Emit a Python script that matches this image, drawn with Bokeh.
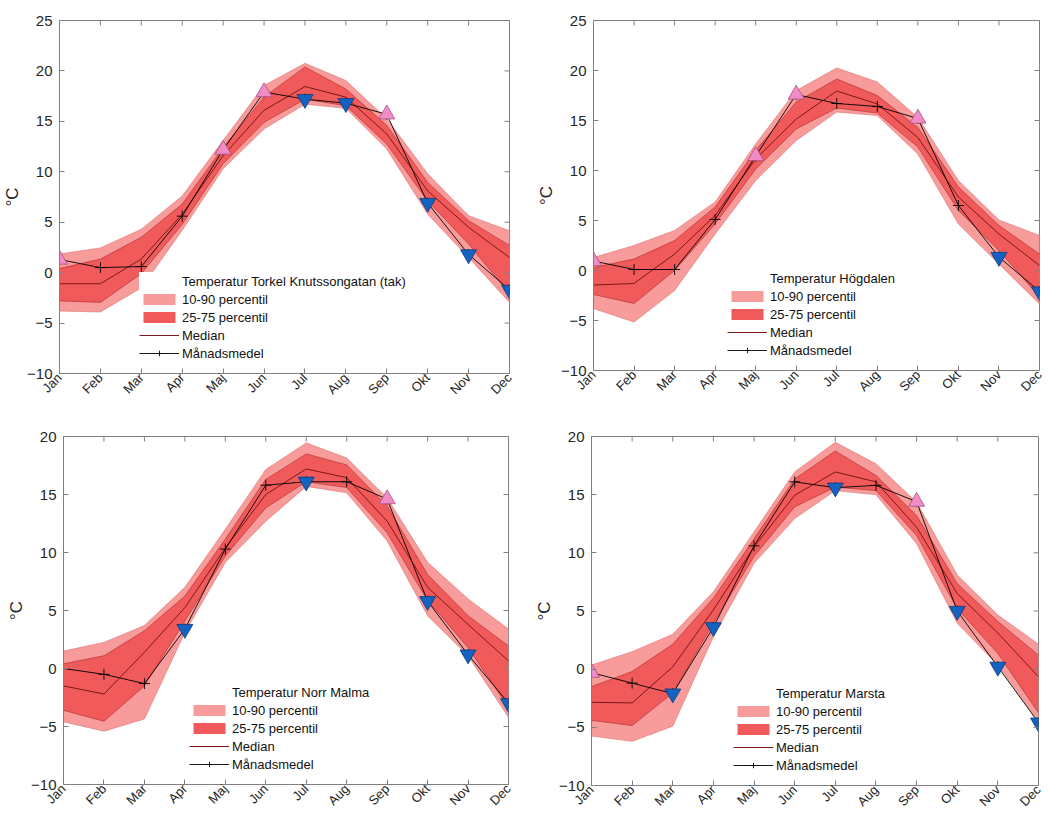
import math
from bokeh.plotting import figure
from bokeh.models import (Range1d, FixedTicker, Legend, LegendItem, ColumnDataSource)
from bokeh.layouts import column, row
from bokeh.embed import file_html
from bokeh.resources import INLINE

months = ["Jan", "Feb", "Mar", "Apr", "Maj", "Jun", "Jul", "Aug", "Sep", "Okt", "Nov", "Dec"]

# Torkel Knutssongatan (tak)
tk_p90 = [1.85, 2.45, 4.3, 7.6, 13.1, 18.55, 20.75, 19.05, 15.25, 9.8, 5.65, 4.15]
tk_p75 = [0.4, 1.35, 3.5, 6.8, 12.4, 17.4, 20.4, 18.2, 14.6, 8.95, 5.15, 2.7]
tk_med = [-1.1, -1.1, 1.35, 5.8, 11.6, 16.1, 18.45, 17.4, 13.75, 8.1, 4.5, 1.5]
tk_p25 = [-2.8, -2.95, -0.1, 4.8, 10.8, 14.9, 17.2, 16.55, 12.75, 7.1, 2.85, -2.1]
tk_p10 = [-3.8, -3.9, -1.5, 4.2, 10.3, 14.25, 16.7, 16.3, 12.25, 5.8, 1.5, -2.95]
tk_mean = [1.3, 0.5, 0.6, 5.6, 12.2, 17.9, 17.2, 16.8, 15.7, 6.9, 1.8, -1.7]
tk_flag = ["up", "", "", "", "up", "up", "down", "down", "up", "down", "down", "down"]

# Högdalen
hd_p90 = [1.3, 2.5, 4.0, 6.85, 12.65, 18.0, 20.25, 18.85, 15.3, 9.0, 5.05, 3.5]
hd_p75 = [0.3, 1.15, 3.0, 6.35, 12.0, 16.85, 19.15, 17.5, 14.3, 8.35, 4.5, 1.65]
hd_med = [-1.45, -1.3, 1.65, 5.5, 11.15, 15.15, 17.95, 16.65, 13.3, 7.35, 3.65, 0.5]
hd_p25 = [-2.4, -3.3, 0.0, 4.65, 10.15, 14.15, 16.25, 15.75, 12.35, 6.0, 2.0, -2.65]
hd_p10 = [-3.8, -5.15, -2.0, 3.65, 9.0, 13.0, 15.85, 15.5, 11.65, 4.65, 0.65, -3.35]
hd_mean = [0.95, 0.1, 0.1, 5.1, 11.45, 17.6, 16.7, 16.4, 15.2, 6.5, 1.35, -2.1]
hd_flag = ["up", "", "", "", "up", "up", "", "", "up", "", "down", "down"]

# Norr Malma
nm_p90 = [1.5, 2.25, 3.7, 7.0, 12.0, 17.15, 19.45, 18.15, 14.7, 9.15, 6.0, 3.4]
nm_p75 = [0.4, 1.1, 3.25, 6.25, 11.15, 16.3, 18.5, 17.55, 14.0, 8.1, 4.55, 1.95]
nm_med = [-1.5, -2.2, 1.4, 5.25, 10.4, 15.0, 17.2, 16.45, 12.7, 7.0, 3.8, 0.65]
nm_p25 = [-3.6, -4.55, -1.5, 4.1, 9.7, 13.85, 16.1, 15.6, 11.7, 5.85, 1.8, -3.35]
nm_p10 = [-4.6, -5.4, -4.35, 3.1, 9.15, 12.7, 15.7, 15.15, 11.0, 4.55, 1.1, -4.2]
nm_mean = [0.0, -0.5, -1.3, 3.4, 10.3, 15.8, 16.1, 16.1, 14.6, 5.8, 1.2, -3.0]
nm_flag = ["", "", "", "down", "", "", "down", "", "up", "down", "down", "down"]

# Marsta
ma_p90 = [0.35, 1.5, 3.0, 6.65, 11.8, 16.95, 19.5, 17.65, 14.35, 8.1, 4.65, 2.15]
ma_p75 = [-1.5, -0.2, 2.15, 6.1, 11.2, 16.35, 18.75, 16.65, 13.2, 7.35, 4.1, 1.2]
ma_med = [-2.85, -2.9, 0.2, 5.1, 10.5, 14.95, 16.95, 16.1, 12.2, 6.5, 3.1, -0.65]
ma_p25 = [-4.4, -4.85, -2.05, 3.95, 9.7, 13.95, 15.65, 15.35, 11.5, 5.2, 1.35, -3.75]
ma_p10 = [-5.75, -6.2, -4.9, 2.8, 9.1, 12.95, 15.35, 15.0, 10.8, 3.95, 0.35, -4.5]
ma_mean = [-0.3, -1.2, -2.1, 3.6, 10.6, 16.1, 15.6, 15.8, 14.4, 5.0, 0.2, -4.6]
ma_flag = ["up", "", "down", "down", "", "", "down", "", "up", "down", "down", "down"]

FONT = "Liberation Sans"
AXC = "#808080"
TXT = "#262626"
LIGHT = "#f89b9b"
DARK = "#f05a5a"


def style_axis(ax):
    ax.axis_line_color = AXC
    ax.major_tick_line_color = AXC
    ax.major_tick_in = 5
    ax.major_tick_out = 0
    ax.minor_tick_line_color = None
    ax.major_label_text_font = FONT
    ax.major_label_text_color = TXT


def panel(name, p10, p25, med, p75, p90, mean, flag, ymax, fw, fh, bl, br, bt, bb, legloc):
    x = list(range(1, len(months) + 1))
    yt = list(range(-10, ymax + 1, 5))
    p = figure(frame_width=fw, frame_height=fh, min_border_left=bl, min_border_right=br,
               min_border_top=bt, min_border_bottom=bb, x_range=Range1d(1, len(months)),
               y_range=Range1d(-10, ymax), output_backend="svg", toolbar_location=None,
               background_fill_color="white", border_fill_color="white")
    p.grid.visible = False
    p.outline_line_color = AXC

    src = ColumnDataSource(dict(x=x, p10=p10, p25=p25, med=med, p75=p75, p90=p90, mean=mean))
    r_light = p.varea(x="x", y1="p10", y2="p90", source=src, fill_color=LIGHT)
    p.line(x="x", y="p90", source=src, line_color="#e57a7a", line_width=0.7)
    p.line(x="x", y="p10", source=src, line_color="#e57a7a", line_width=0.7)
    r_dark = p.varea(x="x", y1="p25", y2="p75", source=src, fill_color=DARK)
    p.line(x="x", y="p75", source=src, line_color="#b83232", line_width=0.7)
    p.line(x="x", y="p25", source=src, line_color="#b83232", line_width=0.7)
    r_med = p.line(x="x", y="med", source=src, line_color="#7d1818", line_width=1)
    r_mean = p.line(x="x", y="mean", source=src, line_color="black", line_width=0.9)
    r_cross = p.scatter(x="x", y="mean", source=src, marker="cross", size=11,
                        line_color="black", line_width=0.9)

    ux = [xi for xi, f in zip(x, flag) if f == "up"]
    uy = [m for m, f in zip(mean, flag) if f == "up"]
    dx = [xi for xi, f in zip(x, flag) if f == "down"]
    dy = [m for m, f in zip(mean, flag) if f == "down"]
    p.scatter(ux, uy, marker="triangle", size=16, fill_color="#f28cc9",
              line_color="#a8507f", line_width=0.8)
    p.scatter(dx, dy, marker="inverted_triangle", size=16, fill_color="#1462c2",
              line_color="#0b3a78", line_width=0.8)

    # inward ticks on top and right edges (box style); half of each dash is clipped by the frame
    p.scatter(x, [ymax] * len(x), marker="dash", angle=math.pi / 2, size=10,
              line_color=AXC, line_width=1)
    p.scatter([len(months)] * len(yt), yt, marker="dash", size=10, line_color=AXC, line_width=1)

    r_title = p.line(x=[], y=[], line_color="#f7d4d4", line_width=1)

    items = [
        LegendItem(label="Temperatur " + name, renderers=[r_title]),
        LegendItem(label="10-90 percentil", renderers=[r_light]),
        LegendItem(label="25-75 percentil", renderers=[r_dark]),
        LegendItem(label="Median", renderers=[r_med]),
        LegendItem(label="Månadsmedel", renderers=[r_mean, r_cross]),
    ]
    leg = Legend(items=items, location=legloc, padding=0, margin=0, spacing=0,
                 label_height=18, glyph_height=14, glyph_width=40, label_standoff=3,
                 label_text_font=FONT, label_text_font_size="13px", label_text_color="#111111",
                 background_fill_color="white", background_fill_alpha=1.0,
                 border_line_color=None)
    p.add_layout(leg, "center")

    xa = p.xaxis[0]
    style_axis(xa)
    xa.ticker = FixedTicker(ticks=x)
    xa.major_label_overrides = {xi: m for xi, m in zip(x, months)}
    xa.major_label_orientation = math.pi / 4
    xa.major_label_text_font_size = "13px"
    xa.major_label_standoff = 2

    ya = p.yaxis[0]
    style_axis(ya)
    ya.ticker = FixedTicker(ticks=yt)
    ya.major_label_text_font_size = "15px"
    ya.major_label_standoff = 7
    ya.axis_label = "°C"
    ya.axis_label_text_font = FONT
    ya.axis_label_text_font_style = "normal"
    ya.axis_label_text_font_size = "17px"
    ya.axis_label_text_color = TXT
    ya.axis_label_standoff = 2
    return p


p1 = panel("Torkel Knutssongatan (tak)", tk_p10, tk_p25, tk_med, tk_p75, tk_p90, tk_mean, tk_flag,
           25, 450, 353, 57, 17, 20, 34, (80, 11))
p2 = panel("Högdalen", hd_p10, hd_p25, hd_med, hd_p75, hd_p90, hd_mean, hd_flag,
           25, 446, 350, 67, 12, 20, 37, (134, 11))
p3 = panel("Norr Malma", nm_p10, nm_p25, nm_med, nm_p75, nm_p90, nm_mean, nm_flag,
           20, 445, 348, 63, 16, 29, 30, (126, 11))
p4 = panel("Marsta", ma_p10, ma_p25, ma_med, ma_p75, ma_p90, ma_mean, ma_flag,
           20, 447, 349, 67, 11, 29, 29, (142, 11))

layout = column(row(p1, p2), row(p3, p4))
open("out.html", "w").write(file_html(layout, INLINE))
